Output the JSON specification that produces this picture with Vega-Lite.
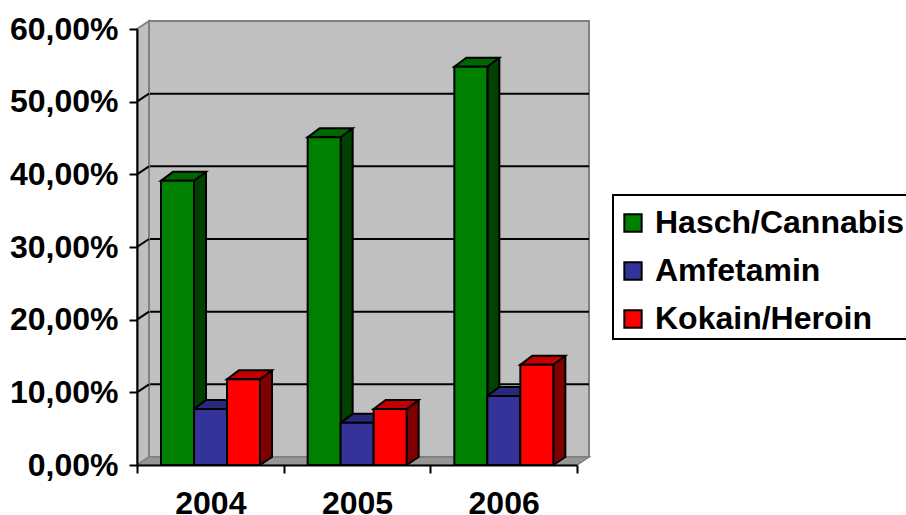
{
"$schema":"https://vega.github.io/schema/vega-lite/v6.json",
"width":452,"height":444,"autosize":"none",
"padding":{"left":137,"top":21,"right":317,"bottom":50},
"background":"white",
"view":{"stroke":null},
"datasets":{
"bars":[
{"year":"2004","series":"Hasch/Cannabis","value":39.1},
{"year":"2004","series":"Amfetamin","value":7.7},
{"year":"2004","series":"Kokain/Heroin","value":11.8},
{"year":"2005","series":"Hasch/Cannabis","value":45.1},
{"year":"2005","series":"Amfetamin","value":5.8},
{"year":"2005","series":"Kokain/Heroin","value":7.7},
{"year":"2006","series":"Hasch/Cannabis","value":54.8},
{"year":"2006","series":"Amfetamin","value":9.5},
{"year":"2006","series":"Kokain/Heroin","value":13.8}],
"grid":[{"year":"2004","v":10},{"year":"2004","v":20},{"year":"2004","v":30},{"year":"2004","v":40},{"year":"2004","v":50}],
"wall":[{"year":"2004","v":0}]
},
"encoding":{
"x":{"field":"year","type":"nominal","title":null,
 "scale":{"domain":["2004","2005","2006"],"range":[0,440],"paddingInner":0,"paddingOuter":0},
 "axis":{"zindex":1,"labelAngle":0,"labelFont":"Liberation Sans","labelFontWeight":"bold","labelFontSize":32,"labelColor":"black","labelPadding":15,"tickBand":"extent","tickSize":8,"tickWidth":2,"tickColor":"black","domainColor":"black","domainWidth":2,"grid":false}},
"y":{"type":"quantitative","title":null,"field":"value",
 "scale":{"domain":[0,60],"range":[444,8],"nice":false,"zero":true},
 "axis":{"zindex":1,"values":[0,10,20,30,40,50,60],"labelExpr":"replace(format(datum.value,'.2f'),'.',',')+'%'","labelFont":"Liberation Sans","labelFontWeight":"bold","labelFontSize":32,"labelColor":"black","labelPadding":11,"tickSize":8,"tickWidth":2,"tickColor":"black","domainColor":"black","domainWidth":2,"grid":false}}
},
"layer":[
{"data":{"name":"wall"},
 "mark":{"type":"point","size":4,"opacity":1,"fill":"white","stroke":"black","strokeWidth":2,"shape":"M402.67,-270L720,-270L720,-126L402.67,-126Z"},
 "encoding":{"y":{"field":"v","type":"quantitative"}}},
{"data":{"name":"wall"},
 "mark":{"type":"point","size":4,"opacity":1,"fill":"#c0c0c0","stroke":"#808080","strokeWidth":2,"shape":"M-61.33,-444L378.67,-444L378.67,-8L-61.33,-8Z"},
 "encoding":{"y":{"field":"v","type":"quantitative"}}},
{"data":{"name":"grid"},
 "mark":{"type":"rule","color":"black","strokeWidth":2,"yOffset":-8},
 "encoding":{"x":null,"y":{"field":"v","type":"quantitative"}}},
{"data":{"name":"wall"},
 "mark":{"type":"point","size":4,"opacity":1,"fill":"#c0c0c0","stroke":"#808080","strokeWidth":2,"shape":"M-73.33,-436L-61.33,-444L-61.33,-8L-73.33,0Z"},
 "encoding":{"y":{"field":"v","type":"quantitative"}}},
{"data":{"name":"wall"},
 "mark":{"type":"point","size":4,"opacity":1,"fill":"#969696","stroke":"#808080","strokeWidth":1.5,"shape":"M-73.33,0L-61.33,-8L378.67,-8L366.67,0Z"},
 "encoding":{"y":{"field":"v","type":"quantitative"}}},
{"data":{"name":"grid"},
 "mark":{"type":"point","size":4,"opacity":1,"fill":null,"stroke":"black","strokeWidth":2,"shape":"M-73.33,0L-61.33,-8"},
 "encoding":{"y":{"field":"v","type":"quantitative"}}},
{"data":{"name":"bars"},
 "mark":{"type":"bar","stroke":"black","strokeWidth":2,"yOffset":-8,"y2Offset":-8},
 "encoding":{
  "xOffset":{"field":"series","type":"nominal","scale":{"type":"band","domain":["Hasch/Cannabis","Amfetamin","Kokain/Heroin"],"range":[57,135],"paddingInner":0.636,"paddingOuter":0}},
  "y2":{"datum":0},
  "fill":{"field":"series","type":"nominal","legend":null,"scale":{"domain":["Hasch/Cannabis","Amfetamin","Kokain/Heroin"],"range":["#004000","#1a1a4d","#800000"]}}}},
{"data":{"name":"bars"},
 "mark":{"type":"point","size":4,"opacity":1,"strokeWidth":0,"shape":"M16.5,0L28.5,-8L27.5,-9.5L16.5,-9.5Z","filled":true},
 "encoding":{
  "xOffset":{"field":"series","type":"nominal","scale":{"type":"band","domain":["Hasch/Cannabis","Amfetamin","Kokain/Heroin"],"range":[24,123],"paddingInner":0,"paddingOuter":0}},
  "y":{"datum":0},
  "fill":{"field":"series","type":"nominal","legend":null,"scale":{"domain":["Hasch/Cannabis","Amfetamin","Kokain/Heroin"],"range":["#004000","#1a1a4d","#800000"]}}}},
{"data":{"name":"bars"},
 "mark":{"type":"point","size":4,"opacity":1,"fill":null,"stroke":"black","strokeWidth":2,"shape":"M16.5,0L28.5,-8"},
 "encoding":{
  "xOffset":{"field":"series","type":"nominal","scale":{"type":"band","domain":["Hasch/Cannabis","Amfetamin","Kokain/Heroin"],"range":[24,123],"paddingInner":0,"paddingOuter":0}},
  "y":{"datum":0}}},
{"data":{"name":"bars"},
 "mark":{"type":"point","size":4,"opacity":1,"stroke":"black","strokeWidth":2,"filled":true,"shape":"M-16.5,0L16.5,0L28.5,-9L-4.5,-9Z"},
 "encoding":{
  "xOffset":{"field":"series","type":"nominal","scale":{"type":"band","domain":["Hasch/Cannabis","Amfetamin","Kokain/Heroin"],"range":[24,123],"paddingInner":0,"paddingOuter":0}},
  "fill":{"field":"series","type":"nominal","legend":null,"scale":{"domain":["Hasch/Cannabis","Amfetamin","Kokain/Heroin"],"range":["#006600","#29297a","#c00000"]}}}},
{"data":{"name":"bars"},
 "mark":{"type":"bar","stroke":"black","strokeWidth":2},
 "encoding":{
  "xOffset":{"field":"series","type":"nominal","scale":{"type":"band","domain":["Hasch/Cannabis","Amfetamin","Kokain/Heroin"],"range":[24,123],"paddingInner":0,"paddingOuter":0}},
  "y2":{"datum":0},
  "fill":{"field":"series","type":"nominal","scale":{"domain":["Hasch/Cannabis","Amfetamin","Kokain/Heroin"],"range":["#008000","#333399","#ff0000"]},
   "legend":{"title":null,"orient":"none","legendX":469,"legendY":175,"padding":11,"symbolType":"square","symbolSize":300,"symbolStrokeColor":"black","symbolStrokeWidth":2,"labelFont":"Liberation Sans","labelFontWeight":"bold","labelFontSize":32,"labelColor":"black","labelOffset":6,"rowPadding":16,"labelLimit":400}}}}
],
"resolve":{"scale":{"xOffset":"independent","fill":"independent"}}
}
